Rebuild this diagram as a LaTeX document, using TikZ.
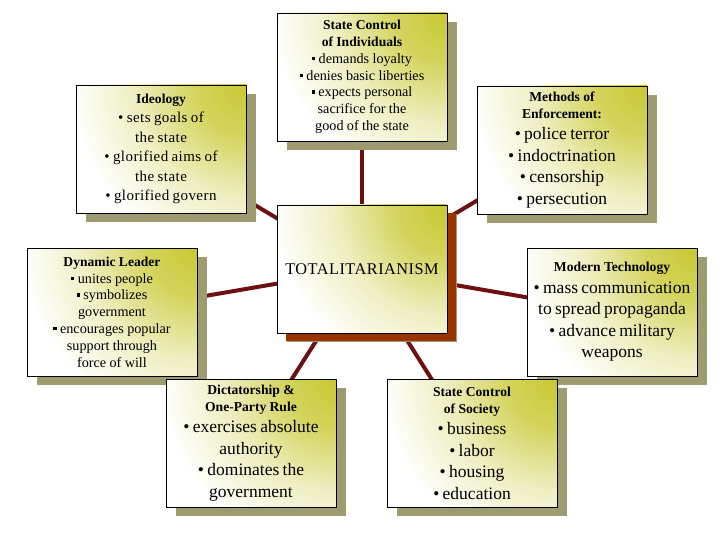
\documentclass[tikz,border=0pt]{standalone}
\usepackage{fontspec}
\setmainfont{Liberation Serif}
\usetikzlibrary{shadows}
\definecolor{boxyellow}{HTML}{C8C832}
\definecolor{boxshade}{HTML}{9C9C70}
\definecolor{hubshade}{HTML}{993300}
\definecolor{linkred}{HTML}{6E1010}
\pgfdeclareradialshading{cornerglow}{\pgfpoint{0bp}{0bp}}{%
  color(0bp)=(boxyellow); color(7bp)=(boxyellow!80!white);
  color(16bp)=(boxyellow!30!white); color(25bp)=(white); color(50bp)=(white)}
\newcommand{\boxtitle}{\fontsize{13.6}{16.8}\bfseries\selectfont}
\newcommand{\smallbody}{\fontsize{14.2}{16.8}\mdseries\selectfont}
\newcommand{\bigbody}{\fontsize{17.5}{21.5}\mdseries\selectfont}
\newcommand{\sqbul}{\rule[0.22em]{0.24em}{0.24em}}
\tikzset{
  topic/.style={rectangle, draw=black, line width=0.8pt, fill=white,
    minimum width=170pt, minimum height=128pt, text width=166pt,
    inner sep=2pt, align=center,
    path picture={\shade[shading=cornerglow]
      (path picture bounding box.north east) circle (175pt);},
    drop shadow={shadow xshift=10pt, shadow yshift=-9pt, fill=boxshade, opacity=1}},
  hub/.style={topic, drop shadow={shadow xshift=9pt, shadow yshift=-8pt, fill=hubshade, opacity=1}},
  link/.style={draw=linkred, line width=4pt}
}
\begin{document}
\begin{tikzpicture}[x=1pt,y=-1pt]
\useasboundingbox[fill=white] (0,0) rectangle (720,540);
% spokes, drawn center to center behind the boxes
\coordinate (c0) at (362,269);
\coordinate (c1) at (161,149);
\coordinate (c2) at (362,77);
\coordinate (c3) at (562,150);
\coordinate (c4) at (112,312);
\coordinate (c5) at (612,312);
\coordinate (c6) at (251,443);
\coordinate (c7) at (472,443);
\foreach \i in {1,...,7}
  \draw[link] (c0) -- (c\i);
% boxes
\node[hub] (total) at (c0) {\fontsize{16.3}{19}\selectfont\addfontfeatures{LetterSpace=3}TOTALITARIANISM};
\node[topic] (ideo) at (c1) {\boxtitle Ideology\par
  \fontsize{15}{19.4}\mdseries\selectfont\addfontfeatures{LetterSpace=3}\textbullet\ sets goals of\\the state\\\textbullet\ glorified aims of\\the state\\\textbullet\ glorified govern\par};
\node[topic] (indiv) at (c2) {\boxtitle State Control\\of Individuals\par
  \smallbody\sqbul\ demands loyalty\\\sqbul\ denies basic liberties\\\sqbul\ expects personal\\sacrifice for the\\good of the state\par};
\node[topic] (enforce) at (c3) {\boxtitle Methods of\\Enforcement:\par
  \bigbody\textbullet\ police terror\\\textbullet\ indoctrination\\\textbullet\ censorship\\\textbullet\ persecution\par};
\node[topic] (leader) at (c4) {\boxtitle Dynamic Leader\par
  \smallbody\sqbul\ unites people\\\sqbul\ symbolizes\\government\\\sqbul\ encourages popular\\support through\\force of will\par};
\node[topic] (tech) at (c5) {\boxtitle Modern Technology\par
  \bigbody\textbullet\ mass communication\\to spread propaganda\\\textbullet\ advance military\\weapons\par};
\node[topic] (dictat) at (c6) {\boxtitle Dictatorship \&\\One-Party Rule\par
  \bigbody\textbullet\ exercises absolute\\authority\\\textbullet\ dominates the\\government\par};
\node[topic] (society) at (c7) {\boxtitle State Control\\of Society\par
  \bigbody\textbullet\ business\\\textbullet\ labor\\\textbullet\ housing\\\textbullet\ education\par};
\end{tikzpicture}
\end{document}
